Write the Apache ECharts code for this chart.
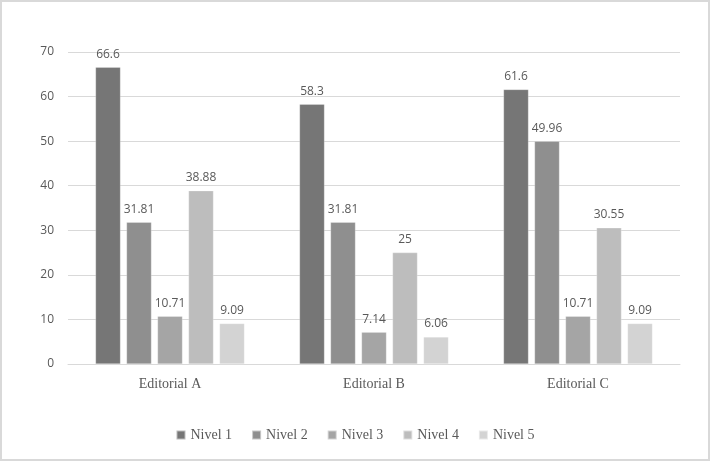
<!DOCTYPE html>
<html><head><meta charset="utf-8">
<script src="https://cdn.jsdelivr.net/npm/echarts@6/dist/echarts.min.js"></script>
<style>html,body{margin:0;padding:0;background:#fff}#c{width:710px;height:461px;box-sizing:border-box;border:2px solid #d9d9d9}</style>
</head><body><div id="c"></div>
<script>
const categories = ["Editorial A", "Editorial B", "Editorial C"];
const seriesNames = ["Nivel 1", "Nivel 2", "Nivel 3", "Nivel 4", "Nivel 5"];
const nivel1 = [66.6, 58.3, 61.6];
const nivel2 = [31.81, 31.81, 49.96];
const nivel3 = [10.71, 7.14, 10.71];
const nivel4 = [38.88, 25, 30.55];
const nivel5 = [9.09, 6.06, 9.09];
const values = [nivel1, nivel2, nivel3, nivel4, nivel5];
const colors = ["#767676", "#8f8f8f", "#a5a5a5", "#bdbdbd", "#d3d3d3"];

const chart = echarts.init(document.getElementById('c'));
chart.setOption({
  animation: false,
  color: colors,
  grid: {left: 66, right: 28, top: 50, bottom: 95, containLabel: false},
  legend: {
    bottom: 12, left: 'center', itemWidth: 9, itemHeight: 9, itemGap: 19, icon: 'rect',
    textStyle: {fontFamily: 'Liberation Serif', fontSize: 14, color: '#595959'},
    data: seriesNames
  },
  xAxis: {
    type: 'category', data: categories,
    axisLine: {lineStyle: {color: '#d9d9d9', width: 1}},
    axisTick: {show: false},
    axisLabel: {fontFamily: 'Liberation Serif', fontSize: 14, color: '#595959', margin: 13}
  },
  yAxis: {
    type: 'value', min: 0, max: 70, interval: 10,
    axisLine: {show: false}, axisTick: {show: false},
    splitLine: {lineStyle: {color: '#d9d9d9'}},
    axisLabel: {fontFamily: 'Open Sans', fontSize: 12, color: '#595959', margin: 14}
  },
  series: values.map((v, i) => ({
    name: seriesNames[i], type: 'bar', data: v, barWidth: 25, barGap: '24%',
    itemStyle: {color: colors[i], borderColor: 'rgba(255,255,255,0.5)', borderWidth: 0.5},
    label: {show: true, position: 'top', distance: 7, fontFamily: 'Open Sans', fontSize: 12, color: '#595959'}
  }))
});
</script></body></html>
